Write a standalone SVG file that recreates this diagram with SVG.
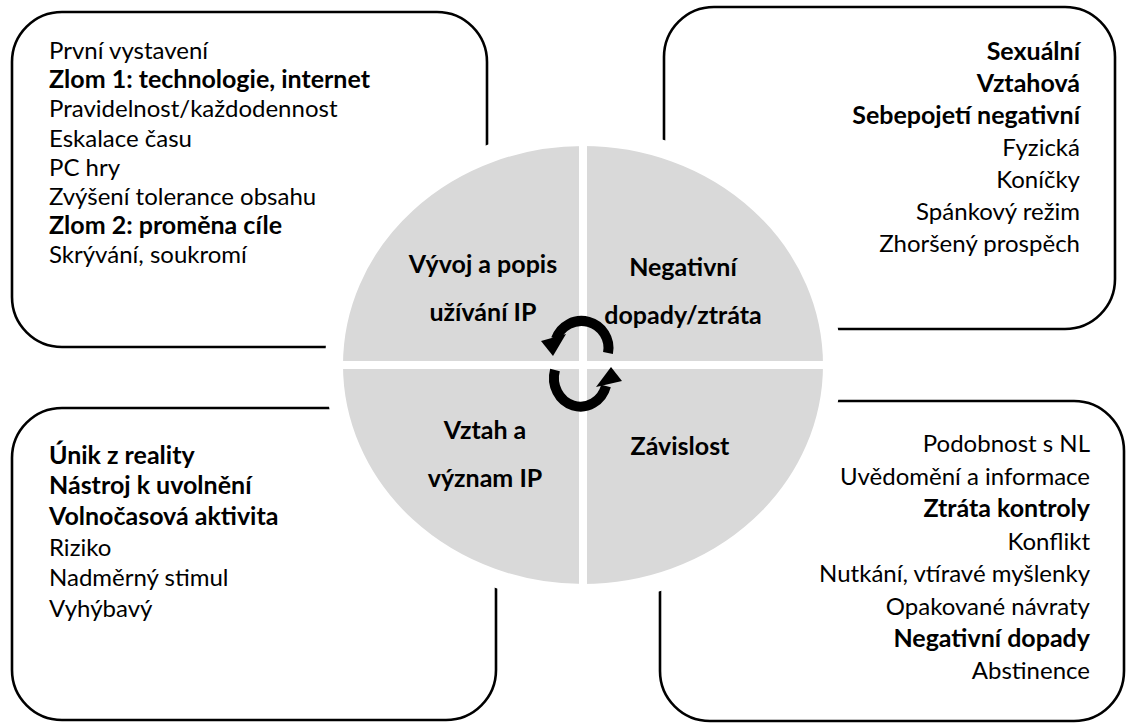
<svg xmlns="http://www.w3.org/2000/svg" width="1127" height="724" viewBox="0 0 1127 724">
<style>
.box{fill:none;stroke:#000;stroke-width:2.6}
text{font-family:Lato,"Open Sans","DejaVu Sans",sans-serif;font-size:24px;fill:#000}
.b{font-weight:bold;font-size:25px}
.r{text-anchor:end}
.c{text-anchor:middle;font-weight:bold;font-size:25px}
.arc{fill:none;stroke:#000;stroke-width:10}
</style>
<rect width="1127" height="724" fill="#fff"/>
<g id="box-tl">
<rect class="box" x="12" y="12" width="475" height="335" rx="50" ry="50"/>
<text x="49" y="59">První vystavení</text>
<text x="49" y="88" class="b">Zlom 1: technologie, internet</text>
<text x="49" y="117">Pravidelnost/každodennost</text>
<text x="49" y="147">Eskalace času</text>
<text x="49" y="176">PC hry</text>
<text x="49" y="205">Zvýšení tolerance obsahu</text>
<text x="49" y="234" class="b">Zlom 2: proměna cíle</text>
<text x="49" y="263">Skrývání, soukromí</text>
</g>
<g id="box-tr">
<rect class="box" x="664" y="7" width="451" height="322" rx="50" ry="50"/>
<text x="1080" y="60" class="r b">Sexuální</text>
<text x="1080" y="92" class="r b">Vztahová</text>
<text x="1080" y="124" class="r b">Sebepojetí negativní</text>
<text x="1080" y="156" class="r">Fyzická</text>
<text x="1080" y="188" class="r">Koníčky</text>
<text x="1080" y="220" class="r">Spánkový režim</text>
<text x="1080" y="252" class="r">Zhoršený prospěch</text>
</g>
<g id="box-bl">
<rect class="box" x="12" y="408" width="484" height="312" rx="50" ry="50"/>
<text x="49" y="464" class="b">Únik z reality</text>
<text x="49" y="494" class="b">Nástroj k uvolnění</text>
<text x="49" y="525" class="b">Volnočasová aktivita</text>
<text x="49" y="556">Riziko</text>
<text x="49" y="586">Nadměrný stimul</text>
<text x="49" y="617">Vyhýbavý</text>
</g>
<g id="box-br">
<rect class="box" x="660" y="401" width="464" height="320" rx="50" ry="50"/>
<text x="1090" y="452" class="r">Podobnost s NL</text>
<text x="1090" y="485" class="r">Uvědomění a informace</text>
<text x="1090" y="517" class="r b">Ztráta kontroly</text>
<text x="1090" y="550" class="r">Konflikt</text>
<text x="1090" y="582" class="r">Nutkání, vtíravé myšlenky</text>
<text x="1090" y="615" class="r">Opakované návraty</text>
<text x="1090" y="647" class="r b">Negativní dopady</text>
<text x="1090" y="679" class="r">Abstinence</text>
</g>
<g id="circle">
<ellipse cx="583" cy="365" rx="249" ry="228" fill="#d9d9d9" stroke="#fff" stroke-width="18"/>
<line x1="583" y1="140" x2="583" y2="590" stroke="#fff" stroke-width="8"/>
<line x1="335" y1="365" x2="830" y2="365" stroke="#fff" stroke-width="8"/>
</g>
<g id="q-vyvoj">
<text x="483" y="273" class="c">Vývoj a popis</text>
<text x="483" y="321" class="c">užívání IP</text>
</g>
<g id="q-negativni">
<text x="683" y="276" class="c">Negativní</text>
<text x="683" y="324" class="c">dopady/ztráta</text>
</g>
<g id="q-vztah">
<text x="485" y="439" class="c">Vztah a</text>
<text x="485" y="487" class="c">význam IP</text>
</g>
<g id="q-zavislost">
<text x="680" y="455" class="c">Závislost</text>
</g>
<g id="connectors">
<path class="arc" d="M608,353 A27,27 0 0 0 556,339"/>
<polygon points="541,341 566,334 553,356"/>
<path class="arc" d="M555,370 A26,28 0 0 0 606,386"/>
<polygon points="596,387 622,381 611,367"/>
</g>
</svg>
